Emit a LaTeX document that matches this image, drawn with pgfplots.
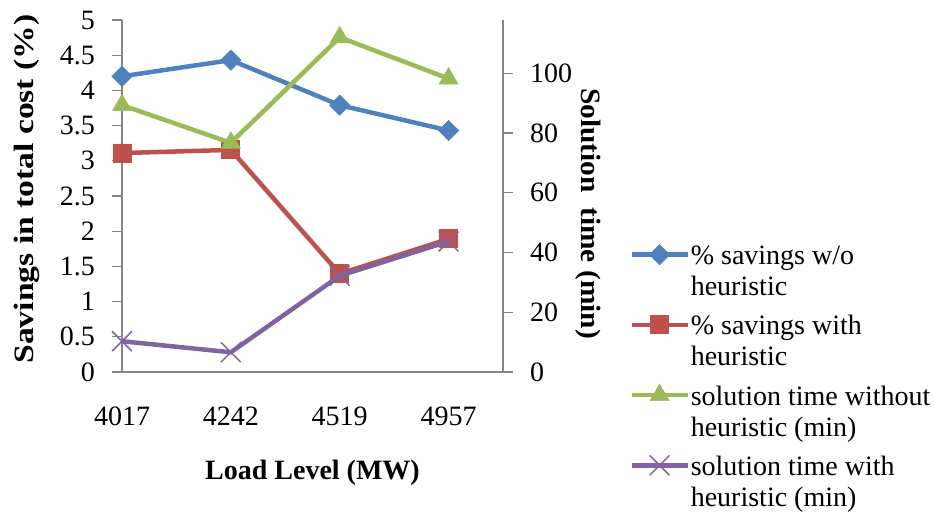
\documentclass[border=0pt]{standalone}
\usepackage{pgfplots}
\pgfplotsset{compat=1.18}
\usepackage{fontspec}
\setmainfont{Liberation Serif}
\definecolor{cblue}{HTML}{4F81BD}
\definecolor{cred}{HTML}{C0504D}
\definecolor{cgreen}{HTML}{9BBB59}
\definecolor{cpurple}{HTML}{8064A2}
\definecolor{axgray}{HTML}{868686}
\newcommand\fs{\fontsize{28}{31}\selectfont}
\pgfplotsset{
  common/.style={
    scale only axis, width=381pt, height=352pt,
    at={(122pt,140pt)}, anchor=south west,
    xmin=0, xmax=3.5,
    axis line style={draw=axgray, line width=1.3pt},
    tick align=outside, major tick length=10pt,
    tick style={draw=axgray, line width=1.3pt},
    tick label style={font=\fs},
    label style={font=\fs\bfseries},
  },
  sblue/.style={color=cblue, line width=4.5pt, mark=square*, mark size=7.2pt, mark options={rotate=45, line width=0.5pt}},
  sred/.style={color=cred, line width=4.5pt, mark=square*, mark size=9pt, mark options={line width=1pt}},
  sgreen/.style={color=cgreen, line width=4.5pt, mark=triangle*, mark size=11pt, mark options={line width=0.5pt}},
  spurple/.style={color=cpurple, line width=4.5pt, mark=x, mark size=14pt, mark options={line width=1.5pt}},
}
\begin{document}
\begin{tikzpicture}[x=1pt,y=1pt]
\useasboundingbox (0,0) rectangle (934,512);
\begin{axis}[common,
  ymin=0, ymax=5,
  axis x line*=bottom, axis y line*=left,
  xtick={0,1,2,3}, xticklabels={4017,4242,4519,4957},
  x tick style={draw=none},
  xticklabel style={inner sep=0pt, anchor=north, yshift=-25pt},
  ytick={0,0.5,1,1.5,2,2.5,3,3.5,4,4.5,5},
  yticklabels={0,0.5,1,1.5,2,2.5,3,3.5,4,4.5,5},
  yticklabel style={inner sep=0pt, anchor=east, xshift=-17pt},
  xlabel={Load Level (MW)},
  xlabel style={at={(axis description cs:0.5,-0.285)}, anchor=center},
  ylabel={\scalebox{1.2}[1]{Savings in total cost (\%)}},
  ylabel style={at={(axis description cs:-0.25,0.52)}, anchor=center},
]
\addplot[sblue] coordinates {(0,4.20) (1,4.43) (2,3.79) (3,3.43)};
\addplot[sred] coordinates {(0,3.11) (1,3.155) (2,1.395) (3,1.89)};
\end{axis}
\begin{axis}[common,
  ymin=0, ymax=117.8,
  axis x line=none, axis y line*=right,
  ytick={0,20,40,60,80,100},
  yticklabels={0,20,40,60,80,100},
  yticklabel style={inner sep=0pt, anchor=west, xshift=17pt},
  ylabel={\scalebox{1.05}[1]{Solution\ \ time (min)}},
  ylabel style={at={(axis description cs:1.223,0.45)}, anchor=center, rotate=180},
  legend style={at={(axis description cs:1.331,0.37)}, anchor=north west,
    draw=none, fill=none, inner sep=0pt, row sep=45pt, font=\fs,
    nodes={inner sep=1pt}, cells={anchor=base west}},
  legend image code/.code={\draw[mark repeat=2, mark phase=2, yshift=10pt] plot coordinates {(0pt,0pt) (28pt,0pt) (56pt,0pt)};},
]
\addlegendimage{sblue}
\addlegendentry{\begin{tabular}[t]{@{}l@{}}\% savings w/o\\heuristic\end{tabular}}
\addlegendimage{sred}
\addlegendentry{\begin{tabular}[t]{@{}l@{}}\% savings with\\heuristic\end{tabular}}
\addplot[sgreen] coordinates {(0,89.3) (1,76.7) (2,112.0) (3,98.2)};
\addlegendentry{\begin{tabular}[t]{@{}l@{}}solution time without\\heuristic (min)\end{tabular}}
\addplot[spurple] coordinates {(0,10.3) (1,6.6) (2,32.2) (3,43.7)};
\addlegendentry{\begin{tabular}[t]{@{}l@{}}solution time with\\heuristic (min)\end{tabular}}
\end{axis}
\end{tikzpicture}
\end{document}
